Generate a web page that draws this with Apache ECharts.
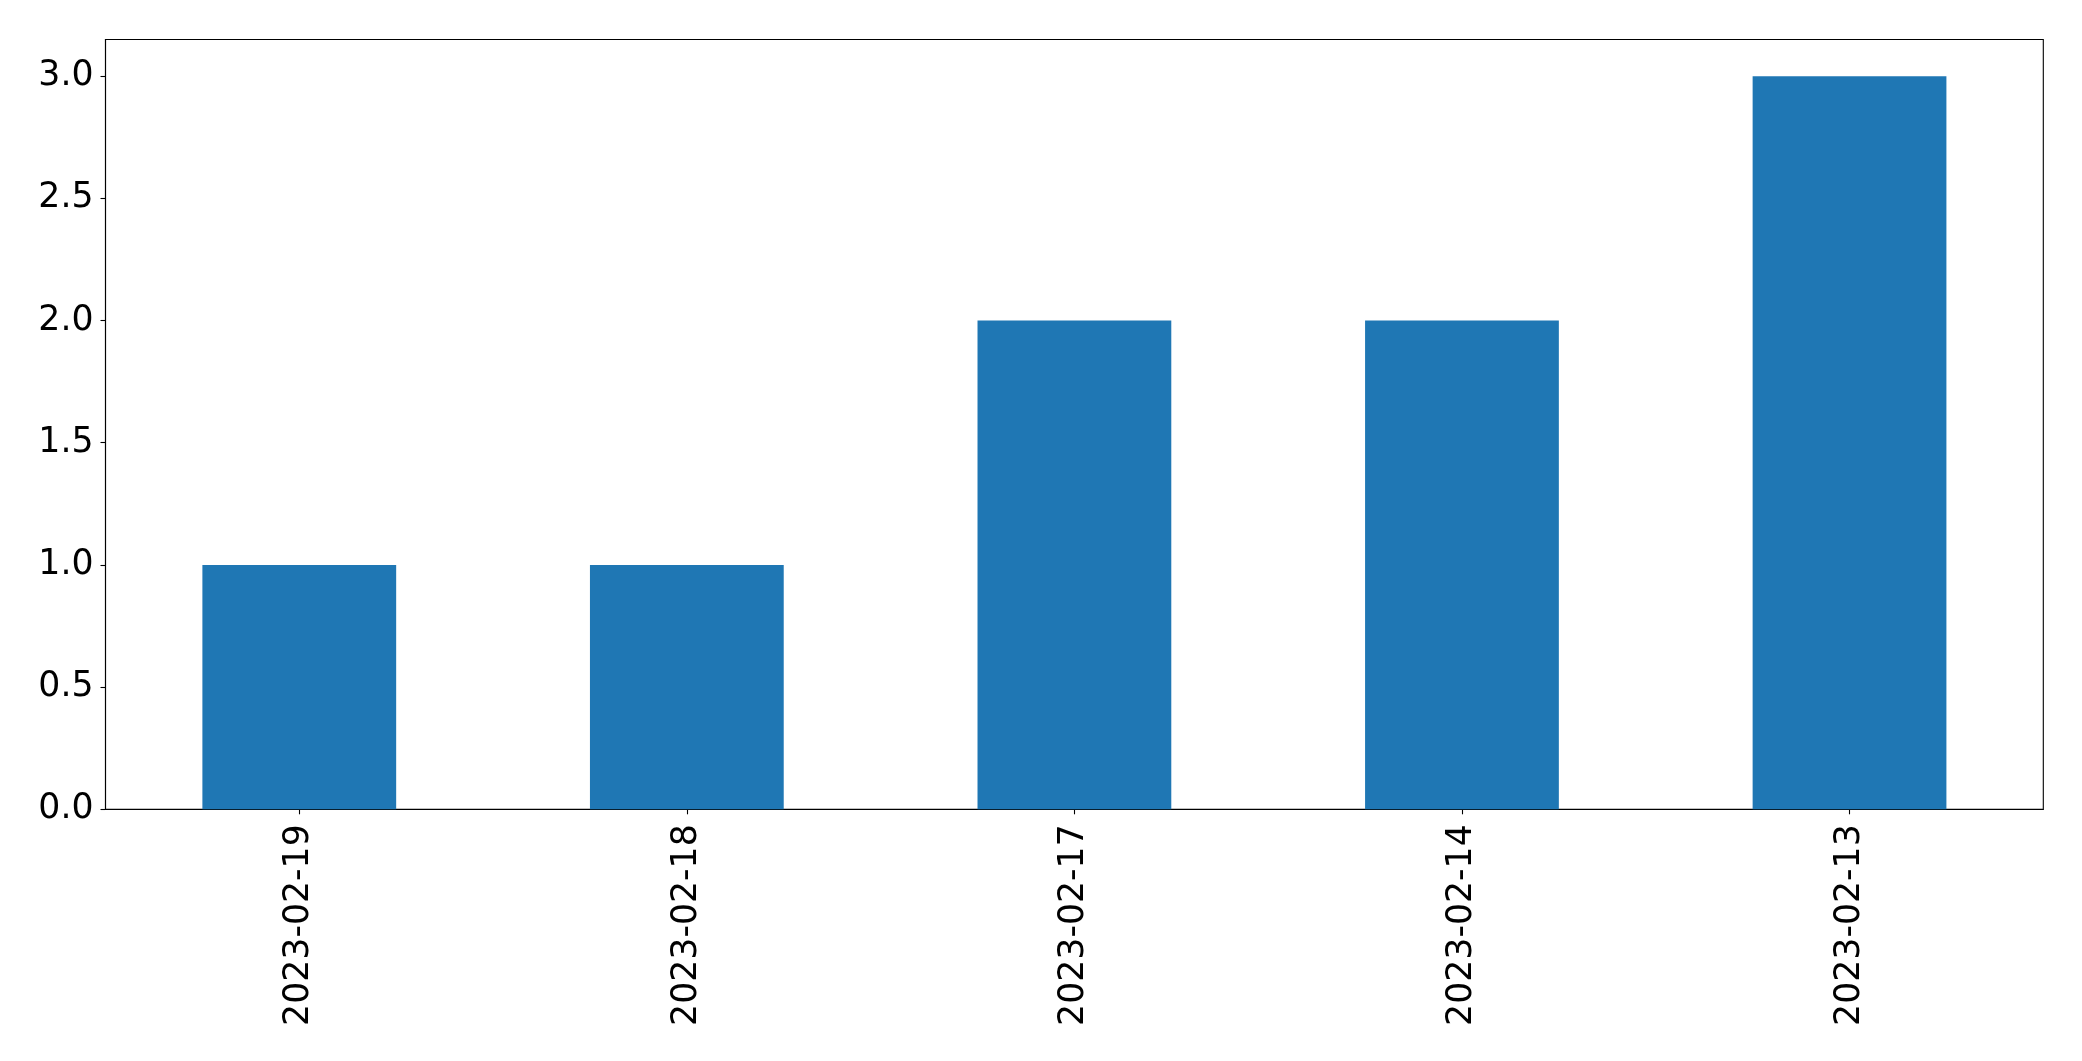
<!DOCTYPE html>
<html>
<head>
<meta charset="utf-8">
<script src="https://cdn.jsdelivr.net/npm/echarts@6/dist/echarts.min.js"></script>
<style>html,body{margin:0;padding:0;background:#fff}#c{width:2082px;height:1061px}</style>
</head>
<body>
<div id="c"></div>
<script>
const categories = ['2023-02-19', '2023-02-18', '2023-02-17', '2023-02-14', '2023-02-13'];
const values = [1, 1, 2, 2, 3];
const yTicks = [0, 0.5, 1.0, 1.5, 2.0, 2.5, 3.0];

const chart = echarts.init(document.getElementById('c'), null, {renderer: 'canvas'});
const font = 'DejaVu Sans';
chart.setOption({
  animation: false,
  backgroundColor: '#ffffff',
  grid: {
    left: 105.5, top: 39.5, right: 38.7, bottom: 251.7,
    show: true, borderColor: '#000', borderWidth: 1.1, backgroundColor: 'transparent'
  },
  xAxis: {
    type: 'category',
    data: categories,
    boundaryGap: true,
    axisLine: {show: true, lineStyle: {color: '#000', width: 1.1}},
    axisTick: {show: true, alignWithLabel: true, length: 5, lineStyle: {color: '#000', width: 1.1}},
    axisLabel: {rotate: 90, margin: 15, color: '#000', fontFamily: font, fontSize: 34.7},
    splitLine: {show: false}
  },
  yAxis: {
    type: 'value',
    min: 0,
    max: 3.15,
    interval: 0.5,
    axisLine: {show: true, lineStyle: {color: '#000', width: 1.1}},
    axisTick: {show: true, length: 5, lineStyle: {color: '#000', width: 1.1}},
    axisLabel: {
      color: '#000', fontFamily: font, fontSize: 34.7, margin: 12,
      padding: [6, 0, 0, 0],
      showMaxLabel: false,
      formatter: v => (yTicks.some(t => Math.abs(t - v) < 1e-9) ? v.toFixed(1) : '')
    },
    splitLine: {show: false}
  },
  series: [{
    type: 'bar',
    data: values,
    barWidth: '50%',
    itemStyle: {color: '#1f77b4'}
  }]
});
</script>
</body>
</html>
